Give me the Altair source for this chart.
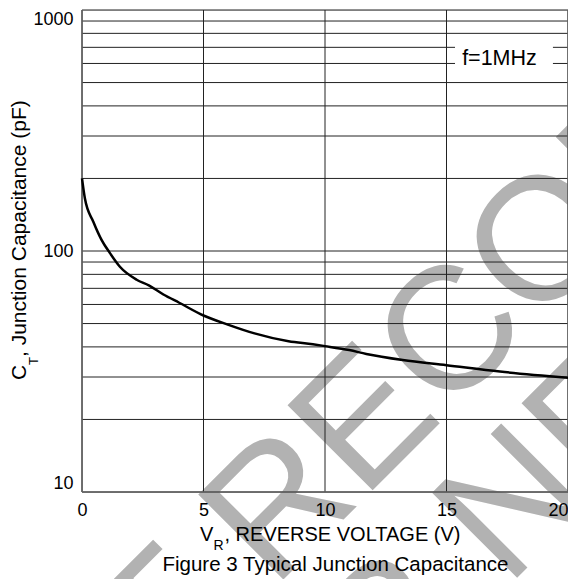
import altair as alt
import pandas as pd

# ---- data ----
V = [0, 0.12, 0.47, 0.81, 1.15, 1.56, 2.25, 2.75, 3.35, 4.0, 5.0, 6.0, 7.1,
     8.5, 9.5, 10.0, 11.0, 11.7, 13.2, 15.0, 17.2, 20.0]
C = [200, 165, 132, 111, 98, 86, 76, 72, 66, 61, 54, 49.5, 45.5,
     42.2, 41, 40.3, 38.8, 37.4, 35.3, 33.6, 31.6, 29.8]

X_TICKS = [0, 5, 10, 15, 20]
Y_LABELS = [10, 100, 1000]
Y_GRID = [10, 20, 30, 40, 50, 60, 70, 80, 90,
          100, 200, 300, 400, 500, 600, 700, 800, 900, 1000]
X_BORDER = [0, 20]
Y_BORDER = [10]

FREQ_LABEL = "f=1MHz"
FREQ_BOX_X = [15.35, 19.38]
FREQ_BOX_Y = [540, 760]
FREQ_POS = [17.18, 592]

WATERMARK = ["NOT RECOMMENDED", "FOR NEW DESIGN"]
Y_TITLE = ["C", "T", ", Junction Capacitance (pF)"]
X_TITLE = ["V", "R", ", REVERSE VOLTAGE (V)"]
CAPTION = "Figure 3 Typical Junction Capacitance"

FONT = "Liberation Sans"
W, H = 486, 482

xs = alt.Scale(domain=[0, 20], nice=False, zero=False)
ys = alt.Scale(type="log", domain=[10, 1000], nice=False)

X_AXIS = alt.Axis(values=X_TICKS, title=None, grid=False, domain=False,
                  ticks=False, labelFlush=False, labelPadding=9,
                  labelAlign=alt.condition("datum.value >= 20",
                                           alt.value("right"),
                                           alt.value("center")),
                  labelFont=FONT, labelFontSize=18, labelColor="black",
                  zindex=1)
Y_AXIS = alt.Axis(values=Y_LABELS, format="d", title=None, grid=False,
                  domain=False, ticks=False, labelFlush=True, labelPadding=9,
                  labelFont=FONT, labelFontSize=18, labelColor="black",
                  zindex=1)


def label(text, x, y, size, angle=0, align="left", baseline="alphabetic",
          color="black"):
    kw = dict(font=FONT, fontSize=size, align=align, baseline=baseline,
              color=color)
    if angle:
        kw["angle"] = angle
    return alt.Chart(pd.DataFrame({"t": [text]})).mark_text(**kw).encode(
        text="t:N", x=alt.value(x), y=alt.value(y))


wm1 = label(WATERMARK[0], 543, 228, 175, angle=315, align="center",
            color="#b2b2b2")
wm2 = label(WATERMARK[1], 676, 327, 175, angle=315, align="center",
            color="#b2b2b2")

hgrid = alt.Chart(pd.DataFrame({"c": Y_GRID})).mark_rule(
    color="#222222", strokeWidth=1).encode(
    y=alt.Y("c:Q", scale=ys, axis=Y_AXIS))
vgrid = alt.Chart(pd.DataFrame({"v": X_TICKS})).mark_rule(
    color="#222222", strokeWidth=1).encode(
    x=alt.X("v:Q", scale=xs, axis=X_AXIS))
vborder = alt.Chart(pd.DataFrame({"v": X_BORDER})).mark_rule(
    color="#666666", strokeWidth=1.5).encode(
    x=alt.X("v:Q", scale=xs, axis=X_AXIS))
hborder = alt.Chart(pd.DataFrame({"c": Y_BORDER})).mark_rule(
    color="#666666", strokeWidth=1.5).encode(
    y=alt.Y("c:Q", scale=ys, axis=Y_AXIS))

curve = alt.Chart(pd.DataFrame({"V": V, "C": C})).mark_line(
    color="black", strokeWidth=2.5, interpolate="monotone").encode(
    x=alt.X("V:Q", scale=xs, axis=X_AXIS),
    y=alt.Y("C:Q", scale=ys, axis=Y_AXIS),
)

box = alt.Chart(pd.DataFrame({"x1": [FREQ_BOX_X[0]], "x2": [FREQ_BOX_X[1]],
                              "y1": [FREQ_BOX_Y[0]], "y2": [FREQ_BOX_Y[1]]})
                ).mark_rect(color="white").encode(
    x=alt.X("x1:Q", scale=xs, axis=X_AXIS), x2="x2:Q",
    y=alt.Y("y1:Q", scale=ys, axis=Y_AXIS), y2="y2:Q")
freq = alt.Chart(pd.DataFrame({"x": [FREQ_POS[0]], "y": [FREQ_POS[1]],
                               "t": [FREQ_LABEL]})).mark_text(
    font=FONT, fontSize=21.5, align="center", baseline="alphabetic",
    color="black").encode(
    x=alt.X("x:Q", scale=xs, axis=X_AXIS),
    y=alt.Y("y:Q", scale=ys, axis=Y_AXIS),
    text="t:N")

yt1 = label(Y_TITLE[0], -56, 370, 21, angle=270)
yt2 = label(Y_TITLE[1], -44, 355, 13, angle=270)
yt3 = label(Y_TITLE[2], -56, 347, 21, angle=270)

xt1 = label(X_TITLE[0], 118, 531, 20)
xt2 = label(X_TITLE[1], 131.5, 540, 14)
xt3 = label(X_TITLE[2], 142.5, 531, 20)

cap = label(CAPTION, 253.5, 561, 20.5, align="center")

chart = alt.layer(
    wm1, wm2, hgrid, vgrid, vborder, hborder, curve, box, freq,
    yt1, yt2, yt3, xt1, xt2, xt3, cap
).properties(
    width=W, height=H,
    autosize=alt.AutoSizeParams(type="none"),
    padding={"left": 74, "top": 2, "right": 0, "bottom": 87},
).configure_view(stroke=None).configure(background="white")

chart.save("out.html", embed_options={"renderer": "svg", "actions": False})
